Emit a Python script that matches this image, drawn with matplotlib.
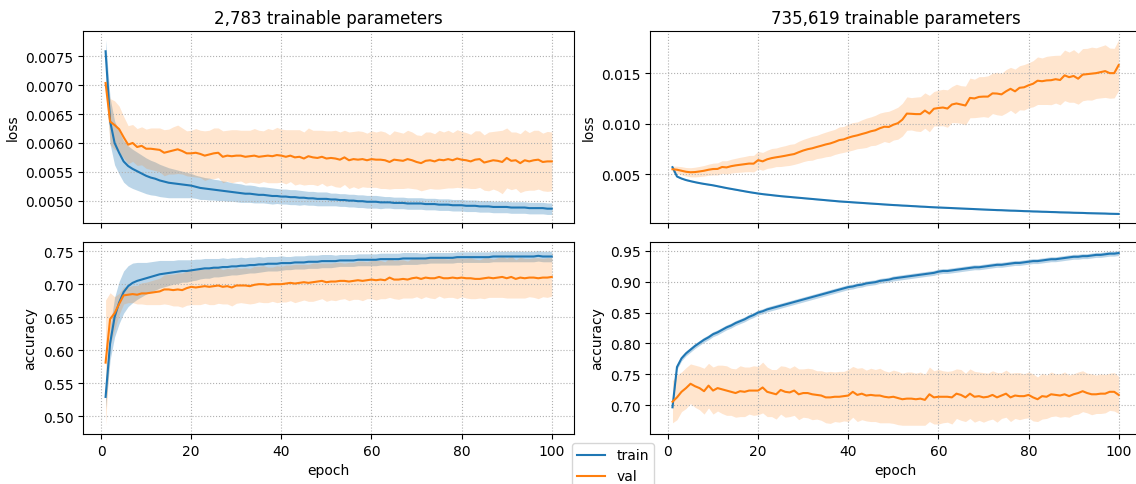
import numpy as np
import matplotlib
matplotlib.use('Agg')
import matplotlib.pyplot as plt
from matplotlib.ticker import MultipleLocator, FormatStrFormatter

# epochs 1..100
epochs = np.arange(1, 101)

# --- small model (2,783 parameters): loss ---
small_train_loss = [
    0.00759, 0.00638, 0.00600, 0.00583, 0.00568, 0.00560, 0.00555, 0.00551, 0.00547, 0.00543,
    0.00540, 0.00538, 0.00535, 0.00533, 0.00531, 0.00530, 0.00529, 0.00528, 0.00527, 0.00526,
    0.00524, 0.00522, 0.00521, 0.00520, 0.00519, 0.00518, 0.00517, 0.00516, 0.00515, 0.00514,
    0.00513, 0.00512, 0.00512, 0.00511, 0.00510, 0.00510, 0.00509, 0.00508, 0.00508, 0.00507,
    0.00507, 0.00506, 0.00506, 0.00505, 0.00505, 0.00504, 0.00504, 0.00503, 0.00503, 0.00503,
    0.00502, 0.00502, 0.00501, 0.00501, 0.00500, 0.00500, 0.00499, 0.00499, 0.00498, 0.00498,
    0.00498, 0.00497, 0.00497, 0.00497, 0.00496, 0.00496, 0.00496, 0.00495, 0.00495, 0.00495,
    0.00495, 0.00494, 0.00494, 0.00494, 0.00493, 0.00493, 0.00493, 0.00492, 0.00492, 0.00492,
    0.00491, 0.00491, 0.00491, 0.00490, 0.00490, 0.00490, 0.00489, 0.00489, 0.00489, 0.00489,
    0.00488, 0.00488, 0.00488, 0.00488, 0.00487, 0.00487, 0.00487, 0.00487, 0.00486, 0.00486]
small_train_loss_std = [
    0.00020, 0.00040, 0.00038, 0.00037, 0.00036, 0.00035, 0.00034, 0.00033, 0.00032, 0.00031,
    0.00030, 0.00029, 0.00028, 0.00027, 0.00026, 0.00025, 0.00024, 0.00023, 0.00022, 0.00021,
    0.00020, 0.00020, 0.00019, 0.00019, 0.00018, 0.00018, 0.00017, 0.00017, 0.00016, 0.00016,
    0.00016, 0.00015, 0.00015, 0.00015, 0.00014, 0.00014, 0.00014, 0.00014, 0.00013, 0.00013,
    0.00013, 0.00013, 0.00013, 0.00013, 0.00012, 0.00012, 0.00012, 0.00012, 0.00012, 0.00012,
    0.00011, 0.00011, 0.00011, 0.00011, 0.00011, 0.00011, 0.00011, 0.00011, 0.00011, 0.00011,
    0.00011, 0.00011, 0.00010, 0.00010, 0.00010, 0.00010, 0.00010, 0.00010, 0.00010, 0.00010,
    0.00010, 0.00010, 0.00010, 0.00010, 0.00010, 0.00010, 0.00010, 0.00010, 0.00010, 0.00010,
    0.00010, 0.00010, 0.00010, 0.00010, 0.00010, 0.00010, 0.00010, 0.00010, 0.00010, 0.00010,
    0.00010, 0.00010, 0.00010, 0.00010, 0.00010, 0.00010, 0.00010, 0.00010, 0.00010, 0.00010]
small_val_loss = [
    0.00704, 0.00637, 0.00631, 0.00624, 0.00610, 0.00597, 0.00600, 0.00593, 0.00595, 0.00590,
    0.00590, 0.00589, 0.00588, 0.00583, 0.00585, 0.00587, 0.00589, 0.00586, 0.00582, 0.00582,
    0.00583, 0.00581, 0.00578, 0.00580, 0.00582, 0.00583, 0.00576, 0.00578, 0.00577, 0.00578,
    0.00578, 0.00576, 0.00577, 0.00578, 0.00576, 0.00577, 0.00578, 0.00577, 0.00579, 0.00578,
    0.00576, 0.00578, 0.00575, 0.00576, 0.00573, 0.00577, 0.00575, 0.00574, 0.00576, 0.00573,
    0.00574, 0.00573, 0.00571, 0.00575, 0.00570, 0.00572, 0.00571, 0.00572, 0.00570, 0.00572,
    0.00571, 0.00571, 0.00570, 0.00567, 0.00571, 0.00570, 0.00569, 0.00572, 0.00570, 0.00567,
    0.00565, 0.00569, 0.00570, 0.00568, 0.00571, 0.00570, 0.00572, 0.00570, 0.00573, 0.00571,
    0.00570, 0.00568, 0.00571, 0.00572, 0.00566, 0.00568, 0.00570, 0.00569, 0.00567, 0.00574,
    0.00569, 0.00570, 0.00565, 0.00570, 0.00568, 0.00570, 0.00571, 0.00567, 0.00568, 0.00568]
small_val_loss_std = [
    0.00010, 0.00040, 0.00042, 0.00040, 0.00036, 0.00033, 0.00032, 0.00032, 0.00033, 0.00034,
    0.00036, 0.00037, 0.00038, 0.00040, 0.00039, 0.00041, 0.00042, 0.00040, 0.00039, 0.00040,
    0.00042, 0.00041, 0.00043, 0.00042, 0.00044, 0.00043, 0.00045, 0.00044, 0.00046, 0.00045,
    0.00044, 0.00046, 0.00045, 0.00047, 0.00046, 0.00044, 0.00047, 0.00046, 0.00048, 0.00046,
    0.00047, 0.00045, 0.00048, 0.00047, 0.00046, 0.00049, 0.00047, 0.00048, 0.00046, 0.00048,
    0.00047, 0.00049, 0.00048, 0.00047, 0.00049, 0.00048, 0.00050, 0.00048, 0.00047, 0.00049,
    0.00048, 0.00050, 0.00049, 0.00047, 0.00050, 0.00049, 0.00048, 0.00050, 0.00049, 0.00047,
    0.00048, 0.00050, 0.00049, 0.00048, 0.00051, 0.00049, 0.00050, 0.00048, 0.00050, 0.00049,
    0.00048, 0.00047, 0.00050, 0.00049, 0.00048, 0.00051, 0.00050, 0.00052, 0.00055, 0.00052,
    0.00050, 0.00049, 0.00051, 0.00053, 0.00050, 0.00052, 0.00051, 0.00050, 0.00052, 0.00051]

# --- large model (735,619 parameters): loss ---
large_train_loss = [
    0.00570, 0.00478, 0.00458, 0.00443, 0.00432, 0.00422, 0.00413, 0.00405, 0.00398, 0.00391,
    0.00382, 0.00373, 0.00364, 0.00356, 0.00348, 0.00340, 0.00332, 0.00324, 0.00317, 0.00310,
    0.00304, 0.00299, 0.00294, 0.00289, 0.00284, 0.00280, 0.00276, 0.00272, 0.00268, 0.00264,
    0.00260, 0.00256, 0.00252, 0.00248, 0.00244, 0.00240, 0.00236, 0.00232, 0.00229, 0.00226,
    0.00223, 0.00220, 0.00217, 0.00214, 0.00211, 0.00208, 0.00205, 0.00202, 0.00199, 0.00196,
    0.00194, 0.00191, 0.00189, 0.00186, 0.00184, 0.00181, 0.00179, 0.00176, 0.00174, 0.00172,
    0.00170, 0.00168, 0.00166, 0.00164, 0.00162, 0.00160, 0.00158, 0.00156, 0.00154, 0.00152,
    0.00150, 0.00148, 0.00146, 0.00145, 0.00143, 0.00141, 0.00140, 0.00138, 0.00136, 0.00135,
    0.00133, 0.00132, 0.00130, 0.00129, 0.00127, 0.00126, 0.00124, 0.00123, 0.00122, 0.00120,
    0.00119, 0.00118, 0.00116, 0.00115, 0.00114, 0.00113, 0.00112, 0.00110, 0.00109, 0.00108]
large_train_loss_std = [
    0.00008, 0.00006, 0.00005, 0.00005, 0.00005, 0.00005, 0.00005, 0.00005, 0.00005, 0.00005,
    0.00005, 0.00005, 0.00005, 0.00005, 0.00005, 0.00005, 0.00005, 0.00005, 0.00005, 0.00005,
    0.00005, 0.00005, 0.00005, 0.00005, 0.00005, 0.00005, 0.00005, 0.00005, 0.00005, 0.00005,
    0.00005, 0.00005, 0.00005, 0.00005, 0.00005, 0.00005, 0.00005, 0.00005, 0.00005, 0.00005,
    0.00005, 0.00005, 0.00005, 0.00005, 0.00005, 0.00005, 0.00005, 0.00005, 0.00005, 0.00005,
    0.00005, 0.00005, 0.00005, 0.00005, 0.00005, 0.00005, 0.00005, 0.00005, 0.00005, 0.00005,
    0.00005, 0.00005, 0.00005, 0.00005, 0.00005, 0.00005, 0.00005, 0.00005, 0.00005, 0.00005,
    0.00005, 0.00005, 0.00005, 0.00005, 0.00005, 0.00005, 0.00005, 0.00005, 0.00005, 0.00005,
    0.00005, 0.00005, 0.00005, 0.00005, 0.00005, 0.00005, 0.00005, 0.00005, 0.00005, 0.00005,
    0.00005, 0.00005, 0.00005, 0.00005, 0.00005, 0.00005, 0.00005, 0.00005, 0.00005, 0.00005]
large_val_loss = [
    0.00550, 0.00545, 0.00535, 0.00525, 0.00520, 0.00522, 0.00528, 0.00535, 0.00545, 0.00552,
    0.00553, 0.00572, 0.00568, 0.00580, 0.00588, 0.00594, 0.00600, 0.00606, 0.00605, 0.00640,
    0.00628, 0.00648, 0.00660, 0.00668, 0.00675, 0.00683, 0.00692, 0.00700, 0.00718, 0.00735,
    0.00748, 0.00757, 0.00770, 0.00782, 0.00795, 0.00805, 0.00820, 0.00838, 0.00845, 0.00862,
    0.00875, 0.00885, 0.00898, 0.00910, 0.00925, 0.00935, 0.00955, 0.00970, 0.00968, 0.00990,
    0.01005, 0.01040, 0.01100, 0.01098, 0.01095, 0.01095, 0.01130, 0.01100, 0.01148, 0.01155,
    0.01160, 0.01150, 0.01190, 0.01200, 0.01190, 0.01180, 0.01255, 0.01250, 0.01265, 0.01268,
    0.01268, 0.01300, 0.01298, 0.01290, 0.01320, 0.01345, 0.01320, 0.01355, 0.01360, 0.01380,
    0.01395, 0.01425, 0.01420, 0.01428, 0.01430, 0.01440, 0.01432, 0.01478, 0.01460, 0.01472,
    0.01445, 0.01485, 0.01490, 0.01495, 0.01500, 0.01510, 0.01520, 0.01500, 0.01500, 0.01580]
large_val_loss_std = [
    0.00030, 0.00035, 0.00040, 0.00042, 0.00045, 0.00048, 0.00050, 0.00052, 0.00055, 0.00058,
    0.00060, 0.00062, 0.00066, 0.00068, 0.00070, 0.00074, 0.00076, 0.00080, 0.00082, 0.00086,
    0.00088, 0.00090, 0.00095, 0.00092, 0.00098, 0.00100, 0.00104, 0.00102, 0.00108, 0.00110,
    0.00112, 0.00118, 0.00115, 0.00120, 0.00122, 0.00126, 0.00124, 0.00130, 0.00128, 0.00134,
    0.00136, 0.00132, 0.00140, 0.00145, 0.00142, 0.00148, 0.00150, 0.00146, 0.00155, 0.00152,
    0.00158, 0.00162, 0.00165, 0.00160, 0.00168, 0.00172, 0.00175, 0.00180, 0.00170, 0.00176,
    0.00180, 0.00185, 0.00178, 0.00190, 0.00186, 0.00192, 0.00196, 0.00190, 0.00200, 0.00198,
    0.00205, 0.00200, 0.00210, 0.00208, 0.00215, 0.00212, 0.00220, 0.00218, 0.00225, 0.00222,
    0.00228, 0.00235, 0.00230, 0.00238, 0.00242, 0.00236, 0.00245, 0.00250, 0.00248, 0.00260,
    0.00252, 0.00258, 0.00255, 0.00262, 0.00250, 0.00255, 0.00260, 0.00248, 0.00245, 0.00250]

# --- small model: accuracy ---
small_train_acc = [
    0.529, 0.610, 0.650, 0.672, 0.688, 0.697, 0.702, 0.705, 0.707, 0.709,
    0.711, 0.713, 0.715, 0.716, 0.717, 0.718, 0.719, 0.720, 0.720, 0.721,
    0.722, 0.723, 0.724, 0.724, 0.725, 0.725, 0.726, 0.726, 0.727, 0.727,
    0.728, 0.728, 0.729, 0.729, 0.730, 0.730, 0.731, 0.731, 0.731, 0.732,
    0.732, 0.732, 0.733, 0.733, 0.733, 0.734, 0.734, 0.734, 0.735, 0.735,
    0.735, 0.735, 0.736, 0.736, 0.736, 0.736, 0.737, 0.737, 0.737, 0.737,
    0.737, 0.738, 0.738, 0.738, 0.738, 0.738, 0.739, 0.739, 0.739, 0.739,
    0.739, 0.739, 0.740, 0.740, 0.740, 0.740, 0.740, 0.740, 0.741, 0.741,
    0.741, 0.741, 0.741, 0.741, 0.741, 0.741, 0.742, 0.742, 0.742, 0.742,
    0.742, 0.742, 0.742, 0.742, 0.742, 0.742, 0.743, 0.742, 0.742, 0.742]
small_train_acc_std = [
    0.018, 0.025, 0.030, 0.032, 0.032, 0.031, 0.030, 0.028, 0.026, 0.024,
    0.023, 0.022, 0.021, 0.020, 0.019, 0.018, 0.018, 0.017, 0.017, 0.016,
    0.016, 0.015, 0.015, 0.015, 0.014, 0.014, 0.014, 0.013, 0.013, 0.013,
    0.013, 0.012, 0.012, 0.012, 0.012, 0.011, 0.011, 0.011, 0.011, 0.011,
    0.010, 0.010, 0.010, 0.010, 0.010, 0.010, 0.010, 0.010, 0.010, 0.010,
    0.010, 0.009, 0.009, 0.009, 0.009, 0.009, 0.009, 0.009, 0.009, 0.009,
    0.009, 0.009, 0.009, 0.009, 0.009, 0.009, 0.009, 0.009, 0.009, 0.009,
    0.008, 0.008, 0.008, 0.008, 0.008, 0.008, 0.008, 0.008, 0.008, 0.008,
    0.008, 0.008, 0.008, 0.008, 0.008, 0.008, 0.008, 0.008, 0.008, 0.008,
    0.008, 0.008, 0.008, 0.008, 0.008, 0.008, 0.008, 0.008, 0.008, 0.008]
small_val_acc = [
    0.581, 0.647, 0.656, 0.670, 0.683, 0.684, 0.685, 0.684, 0.686, 0.686,
    0.687, 0.688, 0.689, 0.692, 0.692, 0.691, 0.692, 0.691, 0.694, 0.696,
    0.695, 0.696, 0.697, 0.696, 0.697, 0.698, 0.696, 0.697, 0.695, 0.698,
    0.698, 0.698, 0.697, 0.699, 0.700, 0.700, 0.699, 0.700, 0.700, 0.700,
    0.701, 0.702, 0.701, 0.702, 0.703, 0.702, 0.703, 0.704, 0.705, 0.703,
    0.704, 0.704, 0.705, 0.705, 0.704, 0.705, 0.706, 0.705, 0.706, 0.707,
    0.706, 0.707, 0.706, 0.710, 0.707, 0.707, 0.708, 0.707, 0.709, 0.710,
    0.708, 0.710, 0.709, 0.709, 0.711, 0.709, 0.709, 0.710, 0.709, 0.710,
    0.709, 0.709, 0.708, 0.708, 0.709, 0.710, 0.709, 0.710, 0.711, 0.709,
    0.711, 0.708, 0.710, 0.709, 0.710, 0.710, 0.709, 0.710, 0.710, 0.711]
small_val_acc_std = [
    0.095, 0.040, 0.025, 0.016, 0.013, 0.012, 0.013, 0.014, 0.016, 0.017,
    0.018, 0.019, 0.020, 0.022, 0.023, 0.024, 0.025, 0.026, 0.026, 0.027,
    0.026, 0.027, 0.026, 0.027, 0.028, 0.027, 0.026, 0.027, 0.028, 0.027,
    0.026, 0.027, 0.027, 0.028, 0.027, 0.028, 0.027, 0.026, 0.028, 0.027,
    0.028, 0.027, 0.029, 0.028, 0.027, 0.028, 0.029, 0.028, 0.027, 0.029,
    0.028, 0.029, 0.028, 0.027, 0.029, 0.028, 0.029, 0.030, 0.028, 0.029,
    0.030, 0.029, 0.028, 0.030, 0.029, 0.030, 0.029, 0.028, 0.030, 0.029,
    0.030, 0.029, 0.030, 0.031, 0.029, 0.030, 0.029, 0.030, 0.031, 0.029,
    0.030, 0.031, 0.030, 0.029, 0.031, 0.030, 0.029, 0.030, 0.031, 0.030,
    0.032, 0.029, 0.031, 0.030, 0.029, 0.030, 0.031, 0.029, 0.030, 0.029]

# --- large model: accuracy ---
large_train_acc = [
    0.697, 0.762, 0.776, 0.784, 0.790, 0.796, 0.801, 0.806, 0.810, 0.815,
    0.818, 0.822, 0.826, 0.829, 0.833, 0.836, 0.839, 0.843, 0.846, 0.850,
    0.852, 0.855, 0.857, 0.859, 0.861, 0.863, 0.865, 0.867, 0.869, 0.871,
    0.873, 0.875, 0.877, 0.879, 0.881, 0.883, 0.885, 0.887, 0.889, 0.891,
    0.892, 0.894, 0.895, 0.897, 0.898, 0.899, 0.901, 0.902, 0.903, 0.905,
    0.906, 0.907, 0.908, 0.909, 0.910, 0.911, 0.912, 0.913, 0.914, 0.916,
    0.917, 0.917, 0.918, 0.919, 0.920, 0.921, 0.922, 0.923, 0.923, 0.924,
    0.925, 0.926, 0.927, 0.927, 0.928, 0.929, 0.930, 0.930, 0.931, 0.932,
    0.933, 0.933, 0.934, 0.935, 0.936, 0.936, 0.937, 0.938, 0.939, 0.940,
    0.940, 0.941, 0.941, 0.942, 0.943, 0.943, 0.944, 0.945, 0.945, 0.946]
large_train_acc_std = [
    0.003, 0.004, 0.004, 0.004, 0.004, 0.004, 0.004, 0.004, 0.004, 0.004,
    0.004, 0.004, 0.004, 0.004, 0.004, 0.004, 0.004, 0.004, 0.004, 0.004,
    0.004, 0.004, 0.004, 0.004, 0.004, 0.004, 0.004, 0.004, 0.004, 0.004,
    0.004, 0.004, 0.004, 0.004, 0.004, 0.004, 0.004, 0.004, 0.004, 0.004,
    0.004, 0.004, 0.004, 0.004, 0.004, 0.004, 0.004, 0.004, 0.004, 0.004,
    0.004, 0.004, 0.004, 0.004, 0.004, 0.004, 0.004, 0.004, 0.004, 0.004,
    0.004, 0.004, 0.004, 0.004, 0.004, 0.004, 0.004, 0.004, 0.004, 0.004,
    0.004, 0.004, 0.004, 0.004, 0.004, 0.004, 0.004, 0.004, 0.004, 0.004,
    0.004, 0.004, 0.004, 0.004, 0.004, 0.004, 0.004, 0.004, 0.004, 0.004,
    0.004, 0.004, 0.004, 0.004, 0.004, 0.004, 0.004, 0.004, 0.004, 0.004]
large_val_acc = [
    0.706, 0.713, 0.722, 0.728, 0.735, 0.731, 0.728, 0.723, 0.732, 0.724,
    0.728, 0.726, 0.724, 0.722, 0.720, 0.723, 0.722, 0.724, 0.724, 0.724,
    0.729, 0.722, 0.720, 0.718, 0.725, 0.722, 0.721, 0.724, 0.718, 0.720,
    0.720, 0.718, 0.717, 0.716, 0.713, 0.713, 0.714, 0.714, 0.715, 0.716,
    0.722, 0.717, 0.719, 0.716, 0.717, 0.716, 0.716, 0.714, 0.713, 0.714,
    0.712, 0.710, 0.711, 0.711, 0.710, 0.711, 0.709, 0.718, 0.713, 0.714,
    0.714, 0.714, 0.713, 0.719, 0.717, 0.713, 0.719, 0.714, 0.715, 0.713,
    0.714, 0.717, 0.713, 0.716, 0.719, 0.713, 0.716, 0.715, 0.715, 0.717,
    0.713, 0.710, 0.715, 0.714, 0.718, 0.717, 0.716, 0.718, 0.715, 0.718,
    0.720, 0.723, 0.720, 0.718, 0.718, 0.719, 0.719, 0.722, 0.722, 0.717]
large_val_acc_std = [
    0.034, 0.036, 0.032, 0.033, 0.032, 0.034, 0.035, 0.037, 0.036, 0.038,
    0.037, 0.039, 0.040, 0.038, 0.039, 0.041, 0.040, 0.038, 0.040, 0.039,
    0.041, 0.040, 0.038, 0.040, 0.039, 0.041, 0.039, 0.040, 0.041, 0.039,
    0.040, 0.041, 0.039, 0.040, 0.041, 0.042, 0.040, 0.041, 0.040, 0.042,
    0.041, 0.043, 0.042, 0.041, 0.043, 0.042, 0.044, 0.042, 0.041, 0.043,
    0.043, 0.042, 0.043, 0.043, 0.042, 0.043, 0.041, 0.044, 0.043, 0.044,
    0.042, 0.041, 0.043, 0.040, 0.041, 0.039, 0.040, 0.041, 0.039, 0.040,
    0.038, 0.039, 0.040, 0.037, 0.038, 0.039, 0.037, 0.038, 0.036, 0.037,
    0.038, 0.036, 0.037, 0.035, 0.036, 0.034, 0.035, 0.036, 0.034, 0.033,
    0.034, 0.033, 0.032, 0.033, 0.031, 0.032, 0.031, 0.030, 0.031, 0.030]

titles = ['2,783 trainable parameters', '735,619 trainable parameters']

# pro Spalte: (train, train_std, val, val_std) fuer loss und accuracy
loss_data = [
    (small_train_loss, small_train_loss_std, small_val_loss, small_val_loss_std),
    (large_train_loss, large_train_loss_std, large_val_loss, large_val_loss_std),
]
acc_data = [
    (small_train_acc, small_train_acc_std, small_val_acc, small_val_acc_std),
    (large_train_acc, large_train_acc_std, large_val_acc, large_val_acc_std),
]

# y-Tickabstand und Format pro Panel (Zeile, Spalte)
tick_step = {(0, 0): 0.0005, (0, 1): 0.005, (1, 0): 0.05, (1, 1): 0.05}
tick_fmt = {(0, 0): '%.4f', (0, 1): '%.3f', (1, 0): '%.2f', (1, 1): '%.2f'}


def plot_band(ax, mean, std, color, alpha, label):
    mean = np.array(mean)
    std = np.array(std)
    ax.fill_between(epochs, mean - std, mean + std, color=color, alpha=alpha, linewidth=0)
    line, = ax.plot(epochs, mean, color=color, label=label, linewidth=1.5)
    return line


fig, axes = plt.subplots(2, 2, figsize=(11.36, 4.85), dpi=100, sharex='col')
fig.subplots_adjust(left=0.0733, right=1.0044, top=0.934, bottom=0.1031,
                    wspace=0.155, hspace=0.097)

for col in range(2):
    ax_loss = axes[0, col]
    ax_acc = axes[1, col]

    tr, tr_s, va, va_s = loss_data[col]
    plot_band(ax_loss, tr, tr_s, 'C0', 0.3, 'train')
    plot_band(ax_loss, va, va_s, 'C1', 0.2, 'val')

    tr, tr_s, va, va_s = acc_data[col]
    l1 = plot_band(ax_acc, tr, tr_s, 'C0', 0.3, 'train')
    l2 = plot_band(ax_acc, va, va_s, 'C1', 0.2, 'val')

    ax_loss.set_title(titles[col])
    ax_loss.set_ylabel('loss')
    ax_acc.set_ylabel('accuracy')
    ax_acc.set_xlabel('epoch')

    for row, ax in enumerate([ax_loss, ax_acc]):
        ax.yaxis.set_major_locator(MultipleLocator(tick_step[(row, col)]))
        ax.yaxis.set_major_formatter(FormatStrFormatter(tick_fmt[(row, col)]))
        ax.grid(True, linestyle=':')

# Legende unten zwischen den Spalten
fig.legend([l1, l2], ['train', 'val'], loc='upper center',
           bbox_to_anchor=(613 / 1136, 1 - 437 / 485))

fig.savefig('out.png', dpi=100)
